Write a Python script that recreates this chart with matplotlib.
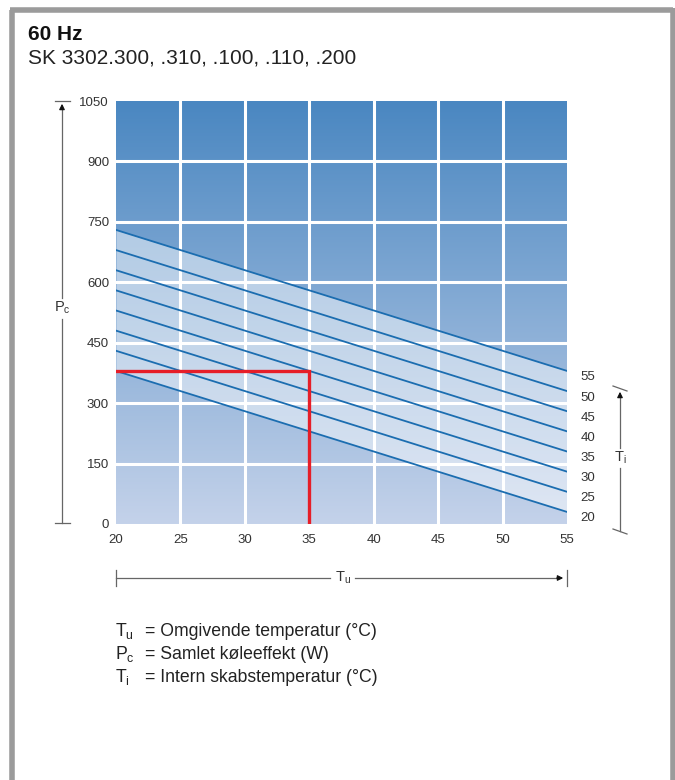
import numpy as np
import matplotlib
matplotlib.use("Agg")
import matplotlib.pyplot as plt
from matplotlib.colors import LinearSegmentedColormap

plt.rcParams['font.family'] = ['Liberation Sans', 'DejaVu Sans']

# ---- data ----
tu = [20, 55]                                  # ambient temperature range (°C)
ti_levels = [55, 50, 45, 40, 35, 30, 25, 20]   # internal cabinet temperature (°C)
pc_at_20 = [730, 680, 630, 580, 530, 480, 430, 380]   # Pc at Tu=20 (W)
pc_at_55 = [380, 330, 280, 230, 180, 130, 80, 30]     # Pc at Tu=55 (W)
x_ticks = [20, 25, 30, 35, 40, 45, 50, 55]
y_ticks = [0, 150, 300, 450, 600, 750, 900, 1050]
example_tu = 35
example_pc = 380

W, H = 675, 780
fig = plt.figure(figsize=(W / 100, H / 100), dpi=100)

# overlay axes in pixel coordinates for decorations
ov = fig.add_axes([0, 0, 1, 1])
ov.set_xlim(0, W)
ov.set_ylim(H, 0)
ov.axis('off')

frame_c = '#9b9b9b'
ov.plot([12, 12], [10, H + 5], color=frame_c, lw=4, solid_capstyle='butt')
ov.plot([10, 673], [10, 10], color=frame_c, lw=4, solid_capstyle='butt')
ov.plot([673, 673], [8, H + 5], color=frame_c, lw=4, solid_capstyle='butt')

ov.text(28, 40, '60 Hz', fontsize=15, fontweight='bold', color='#111111', va='baseline')
ov.text(28, 63, 'SK 3302.300, .310, .100, .110, .200', fontsize=15, color='#222222', va='baseline')

# main axes
ax = fig.add_axes([116 / W, 1 - 524 / H, (567 - 116) / W, (524 - 101) / H])
ax.set_xlim(tu[0], tu[1])
ax.set_ylim(y_ticks[0], y_ticks[-1])

cmap = LinearSegmentedColormap.from_list('bg', ['#c4d2ea', '#4a87c1'])
grad = np.linspace(0, 1, 256).reshape(-1, 1)
ax.imshow(grad, extent=[tu[0], tu[1], y_ticks[0], y_ticks[-1]], origin='lower',
          cmap=cmap, aspect='auto', zorder=0)

ax.fill_between(tu, [pc_at_20[-1], pc_at_55[-1]], [pc_at_20[0], pc_at_55[0]],
                color='white', alpha=0.47, lw=0, zorder=1)

for xt in x_ticks[1:-1]:
    ax.axvline(xt, color='white', lw=2.2, zorder=2)
for yt in y_ticks[1:-1]:
    ax.axhline(yt, color='white', lw=2.2, zorder=2)

for a, b in zip(pc_at_20, pc_at_55):
    ax.plot(tu, [a, b], color='#1b6db0', lw=1.3, zorder=3)

ax.plot([tu[0], example_tu, example_tu], [example_pc, example_pc, 0],
        color='#e61e28', lw=2.4, zorder=4, solid_joinstyle='miter')

for s in ax.spines.values():
    s.set_visible(False)
ax.set_xticks(x_ticks)
ax.set_yticks(y_ticks)
ax.tick_params(length=0, labelsize=9.5, labelcolor='#333333')
ax.tick_params(axis='y', pad=5)
ax.tick_params(axis='x', pad=7)

# Ti labels at right
for lvl, end in zip(ti_levels, pc_at_55):
    ax.text(56.6, end - 16, str(lvl), fontsize=9.5, color='#333333',
            ha='center', va='center', clip_on=False)

arrow_c = '#666666'
# Pc arrow (left)
ov.plot([55, 70], [101, 101], color=arrow_c, lw=0.9)
ov.plot([55, 70], [523, 523], color=arrow_c, lw=0.9)
ov.plot([62, 62], [523, 319], color=arrow_c, lw=0.9)
ov.plot([62, 62], [298, 106], color=arrow_c, lw=0.9)
ov.annotate('', xy=(62, 101), xytext=(62, 112),
            arrowprops=dict(arrowstyle='-|>', color='#111111', lw=0.9, mutation_scale=8))
ov.text(62, 308, 'P$_\\mathregular{c}$', fontsize=10.5, color='#333333', ha='center', va='center')

# Ti arrow (right)
ov.plot([613, 627], [386, 391], color=arrow_c, lw=0.9)
ov.plot([613, 627], [529, 534], color=arrow_c, lw=0.9)
ov.plot([620, 620], [531, 468], color=arrow_c, lw=0.9)
ov.plot([620, 620], [448, 395], color=arrow_c, lw=0.9)
ov.annotate('', xy=(620, 389), xytext=(620, 400),
            arrowprops=dict(arrowstyle='-|>', color='#111111', lw=0.9, mutation_scale=8))
ov.text(620, 458, 'T$_\\mathregular{i}$', fontsize=10.5, color='#333333', ha='center', va='center')

# Tu arrow (bottom)
ov.plot([116, 116], [570, 586], color=arrow_c, lw=0.9)
ov.plot([567, 567], [570, 586], color=arrow_c, lw=0.9)
ov.plot([116, 330], [578, 578], color=arrow_c, lw=0.9)
ov.plot([355, 560], [578, 578], color=arrow_c, lw=0.9)
ov.annotate('', xy=(566, 578), xytext=(554, 578),
            arrowprops=dict(arrowstyle='-|>', color='#111111', lw=0.9, mutation_scale=8))
ov.text(343, 578, 'T$_\\mathregular{u}$', fontsize=10.5, color='#333333', ha='center', va='center')

# explanation
leg_sym = ['T$_\\mathregular{u}$', 'P$_\\mathregular{c}$', 'T$_\\mathregular{i}$']
leg_txt = ['= Omgivende temperatur (°C)', '= Samlet køleeffekt (W)', '= Intern skabstemperatur (°C)']
for i, (s, t) in enumerate(zip(leg_sym, leg_txt)):
    y = 636 + i * 23
    ov.text(115, y, s, fontsize=12.7, color='#222222', va='baseline')
    ov.text(145, y, t, fontsize=12.7, color='#222222', va='baseline')

fig.savefig('out.png', dpi=100)
